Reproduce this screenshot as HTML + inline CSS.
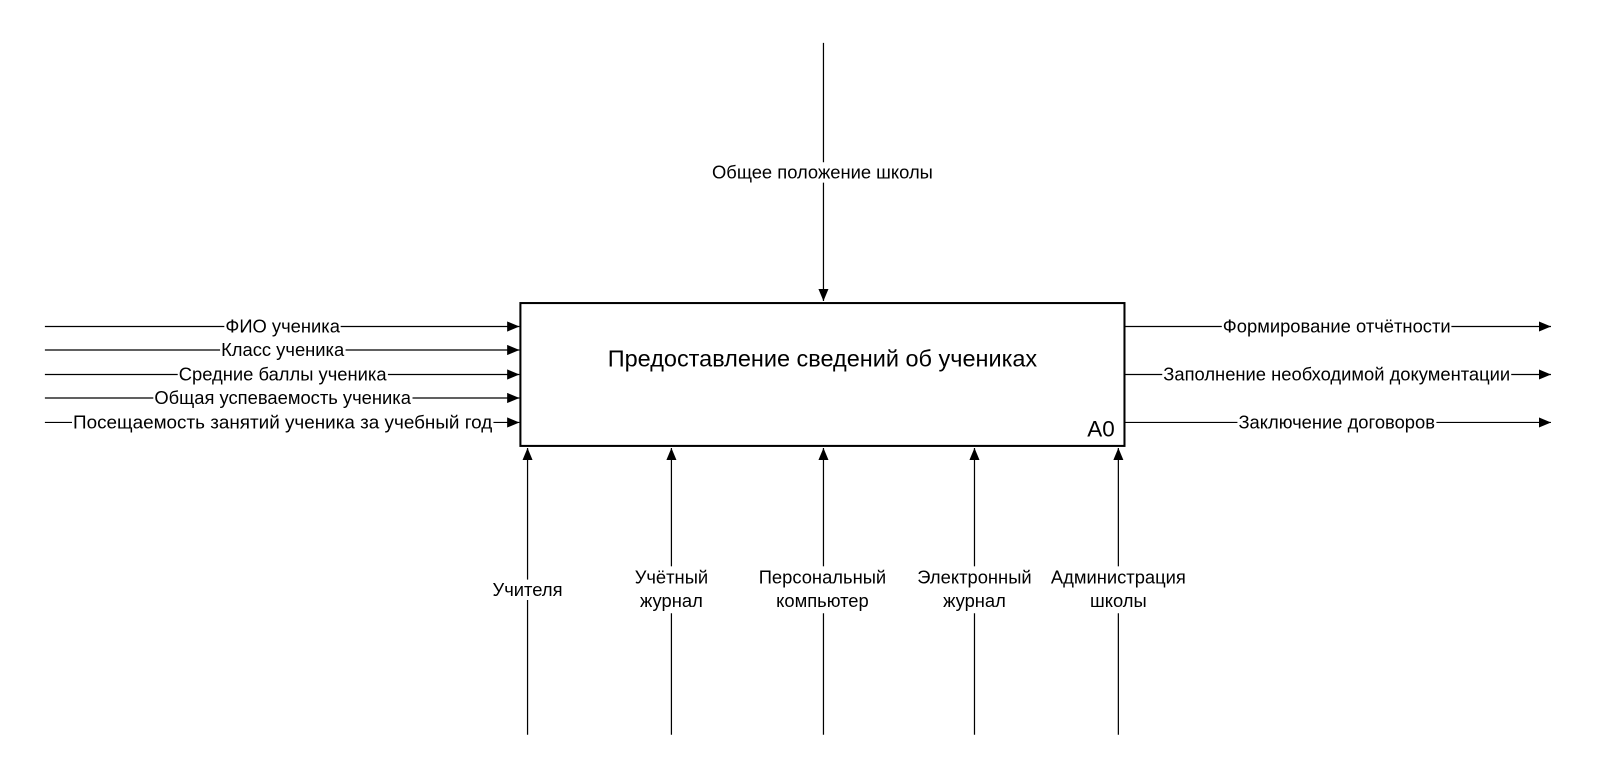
<!DOCTYPE html>
<html><head><meta charset="utf-8"><style>
body{margin:0;background:#fff;width:1600px;height:772px;position:relative;overflow:hidden;font-family:"Liberation Sans",sans-serif;color:#000}
#w{position:absolute;left:0;top:0;width:1568px;height:757px;transform:scale(1.0204);transform-origin:0 0}
svg{position:absolute;left:0;top:0}
.l{position:absolute;background:#fff;font-size:18px;line-height:20px;white-space:nowrap;transform:translate(-50%,-50%);padding:0 1px;text-align:center}
</style></head><body><div id="w">
<svg width="1568" height="757">
<defs><marker id="a" markerWidth="12" markerHeight="10" refX="12" refY="5" orient="auto" markerUnits="userSpaceOnUse"><path d="M0,0 L12,5 L0,10 z" fill="#000"/></marker></defs>
<g stroke="#000" stroke-width="1.2" fill="none">
<line x1="44" y1="320" x2="509" y2="320" marker-end="url(#a)"/>
<line x1="44" y1="343" x2="509" y2="343" marker-end="url(#a)"/>
<line x1="44" y1="367" x2="509" y2="367" marker-end="url(#a)"/>
<line x1="44" y1="390" x2="509" y2="390" marker-end="url(#a)"/>
<line x1="44" y1="414" x2="509" y2="414" marker-end="url(#a)"/>
<line x1="1103" y1="320" x2="1520" y2="320" marker-end="url(#a)"/>
<line x1="1103" y1="367" x2="1520" y2="367" marker-end="url(#a)"/>
<line x1="1103" y1="414" x2="1520" y2="414" marker-end="url(#a)"/>
<line x1="807" y1="42" x2="807" y2="295" marker-end="url(#a)"/>
<line x1="517" y1="720" x2="517" y2="439" marker-end="url(#a)"/>
<line x1="658" y1="720" x2="658" y2="439" marker-end="url(#a)"/>
<line x1="807" y1="720" x2="807" y2="439" marker-end="url(#a)"/>
<line x1="955" y1="720" x2="955" y2="439" marker-end="url(#a)"/>
<line x1="1096" y1="720" x2="1096" y2="439" marker-end="url(#a)"/>
</g>
<rect x="510" y="297" width="592" height="140" fill="#fff" stroke="#000" stroke-width="2"/>
</svg>
<div class="l" style="left:806px;top:351px;font-size:23px;background:none">Предоставление сведений об учениках</div>
<div class="l" style="left:1079px;top:421px;font-size:22px;background:none">A0</div>
<div class="l" style="left:277px;top:320px">ФИО ученика</div>
<div class="l" style="left:277px;top:343px">Класс ученика</div>
<div class="l" style="left:277px;top:367px">Средние баллы ученика</div>
<div class="l" style="left:277px;top:390px">Общая успеваемость ученика</div>
<div class="l" style="left:277px;top:414px;font-size:18.5px">Посещаемость занятий ученика за учебный год</div>
<div class="l" style="left:1310px;top:320px">Формирование отчётности</div>
<div class="l" style="left:1310px;top:367px">Заполнение необходимой документации</div>
<div class="l" style="left:1310px;top:414px">Заключение договоров</div>
<div class="l" style="left:806px;top:169px">Общее положение школы</div>
<div class="l" style="left:517px;top:578px">Учителя</div>
<div class="l" style="left:658px;top:578px;line-height:23px">Учётный<br>журнал</div>
<div class="l" style="left:806px;top:578px;line-height:23px">Персональный<br>компьютер</div>
<div class="l" style="left:955px;top:578px;line-height:23px">Электронный<br>журнал</div>
<div class="l" style="left:1096px;top:578px;line-height:23px">Администрация<br>школы</div>
</div></body></html>
